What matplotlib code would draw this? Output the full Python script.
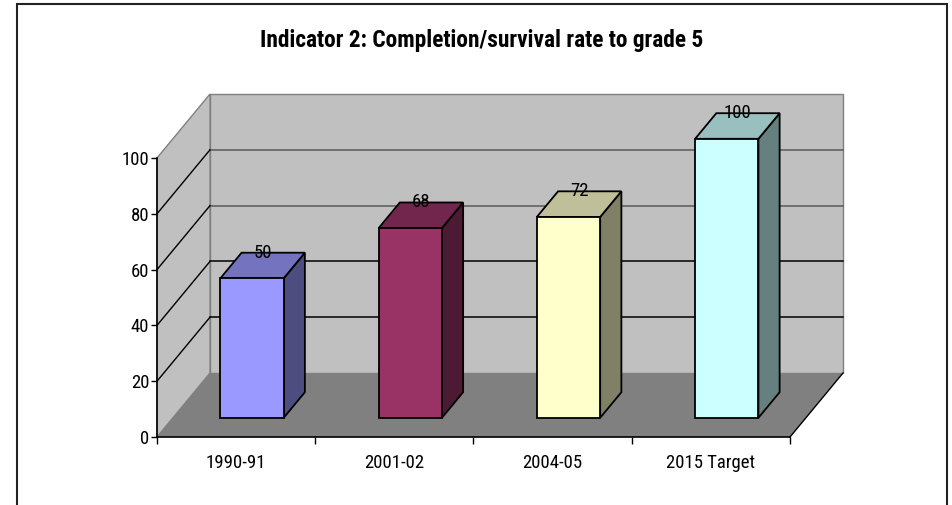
import numpy as np
import matplotlib
matplotlib.use('Agg')
import matplotlib.pyplot as plt
from matplotlib.patches import Polygon, Rectangle
from matplotlib.colors import to_rgb

# Chart data
categories = ['1990-91', '2001-02', '2004-05', '2015 Target']
values = [50, 68, 72, 100]
bar_colors = ['#9999FF', '#993366', '#FFFFCC', '#CCFFFF']
y_ticks = [0, 20, 40, 60, 80, 100]
title = 'Indicator 2: Completion/survival rate to grade 5'

# narrow font, like Arial Narrow in the original
plt.rcParams['font.family'] = ['Roboto Condensed', 'Archivo Narrow', 'Liberation Sans', 'DejaVu Sans']

W, H = 953, 505
fig = plt.figure(figsize=(W / 100, H / 100), dpi=100)

# front plane of the 3d box, in pixels of the picture
x0, x1 = 157, 790
y_bot, y_top = 437, 158
ax = fig.add_axes([x0 / W, (H - y_bot) / H, (x1 - x0) / W, (y_bot - y_top) / H])
ax.set_xlim(0, len(categories))
ax.set_ylim(0, 100)
ax.patch.set_visible(False)

# oblique depth offset of the whole floor, in data units
DX = 53 / ((x1 - x0) / len(categories))
DY = 64 / ((y_bot - y_top) / 100)
n = len(categories)


def poly(pts, fc, ec, lw=1.0, z=1):
    p = Polygon(pts, closed=True, facecolor=fc, edgecolor=ec, linewidth=lw,
                zorder=z, clip_on=False, joinstyle='miter')
    ax.add_patch(p)


def shade(c, f):
    r, g, b = to_rgb(c)
    return (r * f, g * f, b * f)


# walls and floor
poly([(DX, DY), (n + DX, DY), (n + DX, 100 + DY), (DX, 100 + DY)], '#C0C0C0', '#808080', z=0.5)
poly([(0, 0), (0, 100), (DX, 100 + DY), (DX, DY)], '#C0C0C0', '#808080', z=0.5)
poly([(0, 0), (n, 0), (n + DX, DY), (DX, DY)], '#808080', 'none', z=0.6)
ax.plot([n, n + DX], [0, DY], color='black', lw=1, zorder=0.7, clip_on=False)

# gridlines on back and side walls
for v in y_ticks[1:-1]:
    gc = '#5a5a5a' if v >= 60 else 'black'
    ax.plot([DX, n + DX], [v + DY, v + DY], color=gc, lw=1.1, zorder=0.7, clip_on=False)
    ax.plot([0, DX], [v, v + DY], color='black', lw=1, zorder=0.7, clip_on=False)

# 3d bars: slot from 0.3 to 0.7 in width and depth
for i, (v, c) in enumerate(zip(values, bar_colors)):
    l, r = i + 0.3, i + 0.7
    fx, fy = 0.3 * DX, 0.3 * DY
    bx, by = 0.7 * DX, 0.7 * DY
    # right side
    poly([(r + fx, fy), (r + bx, by), (r + bx, v + by), (r + fx, v + fy)], shade(c, 0.5), 'black', 1.3, 2)
    # top
    poly([(l + fx, v + fy), (r + fx, v + fy), (r + bx, v + by), (l + bx, v + by)], shade(c, 0.75), 'black', 1.3, 2)
    # front
    poly([(l + fx, fy), (r + fx, fy), (r + fx, v + fy), (l + fx, v + fy)], c, 'black', 1.3, 2.1)
    ax.text(i + 0.5 + 0.5 * DX, v + by, str(v), ha='center', va='center',
            fontsize=13.5, color='black', zorder=3)

# axes: left spine and floor front edge
for s in ['top', 'right']:
    ax.spines[s].set_visible(False)
for s in ['left', 'bottom']:
    ax.spines[s].set_color('black')
    ax.spines[s].set_linewidth(1.2)
    ax.spines[s].set_zorder(1)
ax.set_yticks(y_ticks)
ax.set_yticklabels([str(t) for t in y_ticks])
ax.tick_params(axis='y', direction='out', length=4, width=1, pad=1.5, labelsize=13.5)
ax.set_xticks(np.arange(n + 1))
ax.set_xticklabels([])
ax.set_xticks(np.arange(n) + 0.5, minor=True)
ax.set_xticklabels(categories, minor=True)
ax.tick_params(axis='x', which='major', direction='out', length=5, width=1)
ax.tick_params(axis='x', which='minor', length=0, pad=12, labelsize=13.5)

# title and outer border
fig.text(482 / W, 1 - 41 / H, title, ha='center', va='center', fontsize=16.8, fontweight='bold')
fig.patches.append(Rectangle((17 / W, -0.1), 930 / W, 1.1 - 4 / H, transform=fig.transFigure,
                             fill=False, edgecolor='#222222', linewidth=1.5))

fig.savefig('out.png', dpi=100)
